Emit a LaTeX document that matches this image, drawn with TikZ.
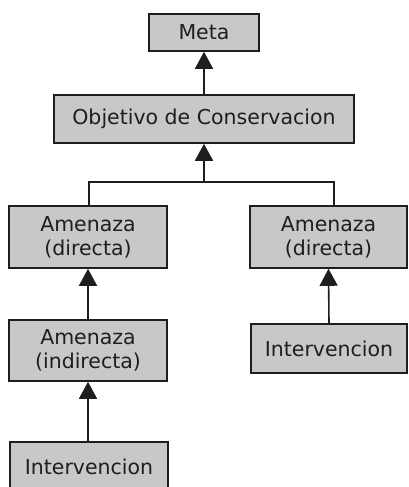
\documentclass[tikz,border=0pt]{standalone}
\usepackage{fontspec}
\setmainfont{DejaVu Sans}
\usetikzlibrary{arrows.meta}
\definecolor{boxfill}{RGB}{200,200,200}
\definecolor{boxline}{RGB}{30,30,30}
\begin{document}
\begin{tikzpicture}[x=1pt,y=-1pt,
  box/.style={draw=boxline,fill=boxfill,line width=1.6pt,rectangle,inner sep=0pt,
    align=center,font=\fontsize{20.5}{24}\selectfont,text=boxline},
  link/.style={draw=boxline,line width=1.6pt},
  arr/.style={link,-{Triangle[width=18pt,length=17pt]}}]
\path[use as bounding box,clip] (0,0) rectangle (408,487);
\node[box,minimum width=110pt,minimum height=37pt] (meta) at (204,32.5) {Meta};
\node[box,minimum width=300pt,minimum height=48pt] (obj) at (204,119) {Objetivo de Conservacion};
\node[box,minimum width=158pt,minimum height=62pt] (amL) at (88,237) {Amenaza\\(directa)};
\node[box,minimum width=157pt,minimum height=62pt] (amR) at (328.5,237) {Amenaza\\(directa)};
\node[box,minimum width=158pt,minimum height=61pt] (indL) at (88,350.5) {Amenaza\\(indirecta)};
\node[box,minimum width=156pt,minimum height=49pt] (intR) at (329,348.5) {Intervencion};
\node[box,minimum width=158pt,minimum height=49pt] (intL) at (89,466.5) {Intervencion};
\coordinate (bar) at (204,182);
\coordinate (bL) at (89,182);
\coordinate (bR) at (334,182);
\draw[arr] (obj.north) -- (meta.south);
\draw[arr] (bar) -- (obj.south);
\draw[link] (amL.north -| bL) -- (bL) -- (bR) -- (amR.north -| bR);
\draw[arr] (indL.north) -- (amL.south);
\draw[arr] (intR.north) -- (amR.south);
\draw[arr] (intL.north -| indL) -- (indL.south);
\end{tikzpicture}
\end{document}
